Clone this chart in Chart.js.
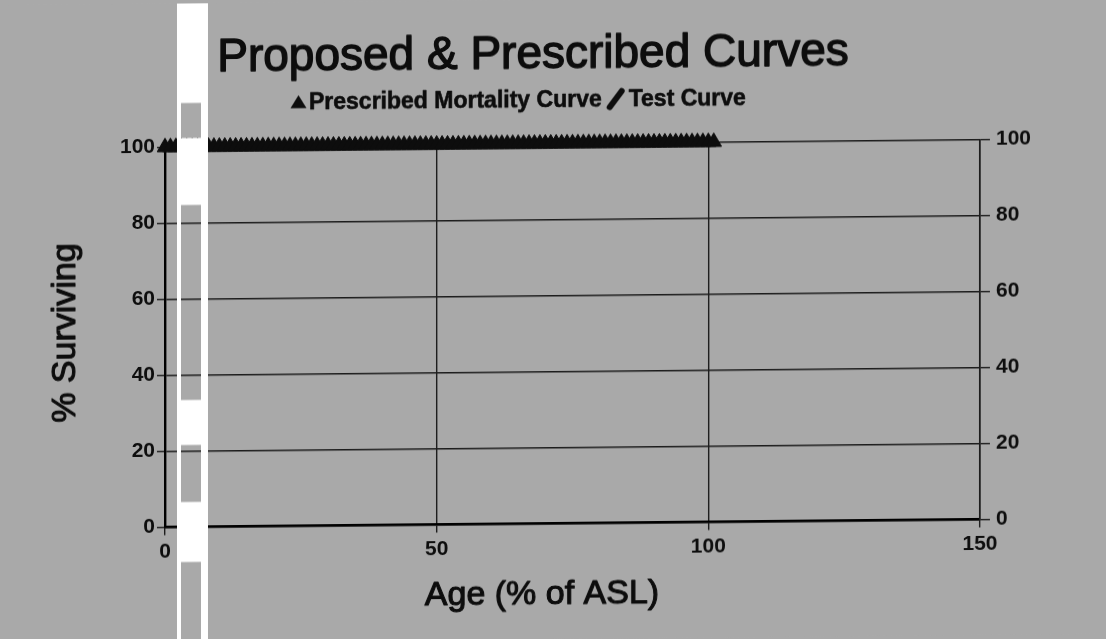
<!DOCTYPE html>
<html>
<head>
<meta charset="utf-8">
<script src="https://cdn.jsdelivr.net/npm/chart.js@4.4.1/dist/chart.umd.min.js"></script>
<style>
  html, body { margin: 0; padding: 0; background: #a9a9a9; overflow: hidden; }
  #wrap { width: 1106px; height: 639px; }
  canvas { display: block; transform-origin: 553px 319.5px; transform: skewY(-0.548deg); }
</style>
</head>
<body>
<div id="wrap"><canvas id="c" width="1106" height="639"></canvas></div>
<script>
// ---- data ----
const titleText = "Proposed & Prescribed Curves";
const xAxisTitle = "Age (% of ASL)";
const yAxisTitle = "% Surviving";
const seriesNames = ["Prescribed Mortality Curve", "Test Curve"];

const prescribedAges = [0,1,2,3,4,5,6,7,8,9,10,11,12,13,14,15,16,17,18,19,20,21,22,23,24,25,26,27,28,29,30,31,32,33,34,35,36,37,38,39,40,41,42,43,44,45,46,47,48,49,50,51,52,53,54,55,56,57,58,59,60,61,62,63,64,65,66,67,68,69,70,71,72,73,74,75,76,77,78,79,80,81,82,83,84,85,86,87,88,89,90,91,92,93,94,95,96,97,98,99,100,101];
const prescribedSurviving = [100,100,100,100,100,100,100,100,100,100,100,100,100,100,100,100,100,100,100,100,100,100,100,100,100,100,100,100,100,100,100,100,100,100,100,100,100,100,100,100,100,100,100,100,100,100,100,100,100,100,100,100,100,100,100,100,100,100,100,100,100,100,100,100,100,100,100,100,100,100,100,100,100,100,100,100,100,100,100,100,100,100,100,100,100,100,100,100,100,100,100,100,100,100,100,100,100,100,100,100,100,100];
const testAges = [0, 101];
const testSurviving = [100, 100];

const xTicks = [0, 50, 100, 150];
const yTicks = [0, 20, 40, 60, 80, 100];

// ---- helpers ----
const FONT = "'Liberation Sans', Arial, Helvetica, sans-serif";
const INK = '#0d0d0d';
const GRID = '#1c1c1c';
const SHEAR = 0.00957;          // scan tilt, compensates canvas skew
const unshear = (x, y) => y + (x - 553) * SHEAR;

const prescribedPts = prescribedAges.map((a, i) => ({ x: a, y: prescribedSurviving[i] }));
const testPts = testAges.map((a, i) => ({ x: a, y: testSurviving[i] }));

function inkText(ctx, txt, x, y, w) {
  ctx.fillText(txt, x, y);
  ctx.lineWidth = w;
  ctx.strokeText(txt, x, y);
}

const decor = {
  id: 'decor',
  beforeDraw(chart) {
    const ctx = chart.ctx;
    ctx.save();
    ctx.fillStyle = '#a9a9a9';
    ctx.fillRect(0, 0, chart.width, chart.height);
    ctx.restore();
  },
  afterDraw(chart) {
    const ctx = chart.ctx;
    ctx.save();
    ctx.fillStyle = INK;
    ctx.strokeStyle = INK;
    ctx.lineJoin = 'round';

    // Title
    ctx.font = '46px ' + FONT;
    ctx.textAlign = 'center';
    ctx.textBaseline = 'alphabetic';
    inkText(ctx, titleText, 533, unshear(533, 68), 1.4);

    // Legend
    ctx.font = 'bold 23px ' + FONT;
    ctx.textAlign = 'left';
    const ly = unshear(520, 107);
    // triangle marker
    ctx.beginPath();
    ctx.moveTo(298.5, ly - 14);
    ctx.lineTo(306.5, ly - 1);
    ctx.lineTo(290.5, ly - 1);
    ctx.closePath();
    ctx.fill();
    const t1x = 309;
    const lab0 = chart.data.datasets[0].label, lab1 = chart.data.datasets[1].label;
    inkText(ctx, lab0, t1x, ly, 0.6);
    const t1end = t1x + ctx.measureText(lab0).width;
    // slash marker for line series
    ctx.lineWidth = 6;
    ctx.lineCap = 'round';
    ctx.beginPath();
    ctx.moveTo(t1end + 8, ly + 1);
    ctx.lineTo(t1end + 20, ly - 15);
    ctx.stroke();
    inkText(ctx, lab1, t1end + 27, ly, 0.6);

    // Axis titles
    ctx.font = '34px ' + FONT;
    ctx.textAlign = 'center';
    ctx.textBaseline = 'middle';
    inkText(ctx, xAxisTitle, 542, unshear(542, 595), 1.1);
    ctx.save();
    ctx.translate(66, unshear(66, 333));
    ctx.rotate(-Math.PI / 2);
    inkText(ctx, yAxisTitle, 0, 0, 1.1);
    ctx.restore();

    // white scan strip with grey windows
    ctx.beginPath();
    ctx.rect(177, -10, 31, 660);
    const wins = [[103, 138], [205, 400], [445, 502], [562, 650]];
    wins.forEach(w => {
      const y0 = w[0] - 3.5, y1 = w[1] - 3.5;
      ctx.moveTo(181, y0); ctx.lineTo(181, y1); ctx.lineTo(201, y1); ctx.lineTo(201, y0); ctx.closePath();
    });
    ctx.fillStyle = '#ffffff';
    ctx.fill('evenodd');
    ctx.restore();
  }
};

new Chart(document.getElementById('c'), {
  type: 'scatter',
  data: {
    datasets: [
      {
        label: seriesNames[0],
        data: prescribedPts,
        pointStyle: 'triangle',
        pointRadius: 9,
        pointHoverRadius: 9,
        backgroundColor: INK,
        borderColor: INK,
        borderWidth: 1,
        showLine: false,
        clip: false,
        order: 1
      },
      {
        label: seriesNames[1],
        data: testPts,
        showLine: true,
        borderColor: INK,
        borderWidth: 8,
        pointRadius: 0,
        clip: false,
        order: 2
      }
    ]
  },
  options: {
    responsive: false,
    animation: false,
    events: [],
    layout: { padding: { top: 143.5, left: 0, right: 0, bottom: 0 } },
    plugins: {
      legend: { display: false },
      title: { display: false },
      tooltip: { enabled: false }
    },
    scales: {
      x: {
        type: 'linear',
        min: 0, max: 150,
        afterBuildTicks(s) { s.ticks = xTicks.map(v => ({ value: v })); },
        afterFit(s) { s.height = 115.5; },
        ticks: { color: INK, font: { family: FONT, size: 21, weight: 'bold' }, padding: 4, maxRotation: 0 },
        grid: { color: GRID, lineWidth: 1.4, tickLength: 8, drawTicks: true },
        border: { display: true, color: '#000', width: 2.4 }
      },
      y: {
        type: 'linear',
        position: 'left',
        min: 0, max: 100,
        afterBuildTicks(s) { s.ticks = yTicks.map(v => ({ value: v })); },
        afterFit(s) { s.width = 165; },
        ticks: { color: INK, font: { family: FONT, size: 21, weight: 'bold' }, padding: 2 },
        grid: { color: GRID, lineWidth: 1.4, tickLength: 8 },
        border: { display: true, color: '#000', width: 2.4 }
      },
      y2: {
        type: 'linear',
        position: 'right',
        min: 0, max: 100,
        afterBuildTicks(s) { s.ticks = yTicks.map(v => ({ value: v })); },
        afterFit(s) { s.width = 126; },
        ticks: { color: INK, font: { family: FONT, size: 21, weight: 'bold' }, padding: 6 },
        grid: { display: true, drawOnChartArea: false, color: GRID, lineWidth: 1.4, tickLength: 10 },
        border: { display: true, color: GRID, width: 1.6 }
      }
    }
  },
  plugins: [decor]
});
</script>
</body>
</html>
